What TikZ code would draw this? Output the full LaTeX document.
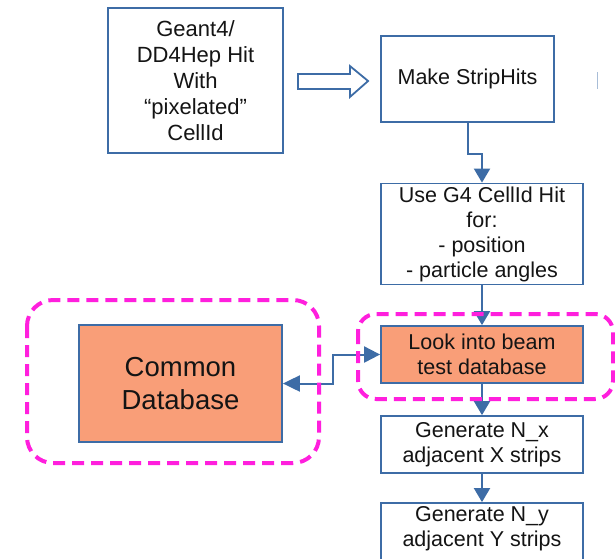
\documentclass[tikz,border=0pt]{standalone}
\usepackage{fontspec}
\setmainfont{Liberation Sans}
\usetikzlibrary{arrows.meta,calc}
\definecolor{boxblue}{HTML}{3D6CA6}
\definecolor{salmon}{HTML}{F99E78}
\definecolor{magentadash}{HTML}{FF1FDD}
\definecolor{txt}{HTML}{141414}
\begin{document}
\begin{tikzpicture}[x=1pt,y=-1pt,
  flowbox/.style={draw=boxblue, line width=1.8pt, fill=white, text=txt, align=center,
    inner sep=0pt, font=\fontsize{21.5}{25}\selectfont},
  dbbox/.style={flowbox, fill=salmon},
  conn/.style={draw=boxblue, line width=2pt, -{Triangle[length=14pt,width=16pt]}},
  group/.style={draw=magentadash, line width=4pt, dash pattern=on 12pt off 7pt}
]
\clip (0,0) rectangle (615,558);
\fill[white] (0,0) rectangle (615,558);

% nodes
\node[flowbox, minimum width=175, minimum height=145, font=\fontsize{22}{26}\selectfont] (geant) at (195.5,80.5)
  {Geant4/\\DD4Hep Hit\\With\\“pixelated”\\CellId};
\node[flowbox, minimum width=173, minimum height=86] (make) at (467.5,79) {Make StripHits};
\node[flowbox, minimum width=202, minimum height=101] (use) at (482,234)
  {Use G4 CellId Hit\\for:\\- position\\- particle angles};
\node[dbbox, minimum width=202, minimum height=57] (look) at (482,354.5) {Look into beam\\test database};
\node[flowbox, minimum width=202, minimum height=57] (genx) at (482,444.5) {Generate N\_x\\adjacent X strips};
\node[flowbox, minimum width=202, minimum height=62, text depth=16pt] (geny) at (482,534) {Generate N\_y\\adjacent Y strips};
\node[dbbox, minimum width=203, minimum height=117, font=\fontsize{27.5}{33}\selectfont] (common) at (180.5,383.5)
  {Common\\Database};

% hollow block arrow
\draw[boxblue, line width=1.8pt, fill=white, line join=miter]
  ($(geant.east)+(14,-6.5)$) -- ++(52,0) -- ++(0,-8) -- ($(make.west)+(-12,2)$)
  -- ($(geant.east)+(66,16.5)$) -- ++(0,-8) -- ++(-52,0) -- cycle;

% fragment at right edge
\draw[boxblue!45, line width=1pt] (597,72) -- (597,89);

% connectors
\draw[conn] (make.south) -- ++(0,31) -| (use.north);
\draw[conn] (use.south) -- (look.north);
\draw[conn] (look.south) -- (genx.north);
\draw[conn] (genx.south) -- (geny.north);
\draw[draw=boxblue, line width=2pt, {Triangle[length=17pt,width=16pt]}-{Triangle[length=16pt,width=16pt]}]
  (common.east) -- ($(common.east)+(50,0)$) |- (look.west);

% dashed groups
\draw[group, rounded corners=26pt] (27,300) rectangle (319,463);
\draw[group, rounded corners=18pt] (358,314) rectangle (613,399);
\end{tikzpicture}
\end{document}
